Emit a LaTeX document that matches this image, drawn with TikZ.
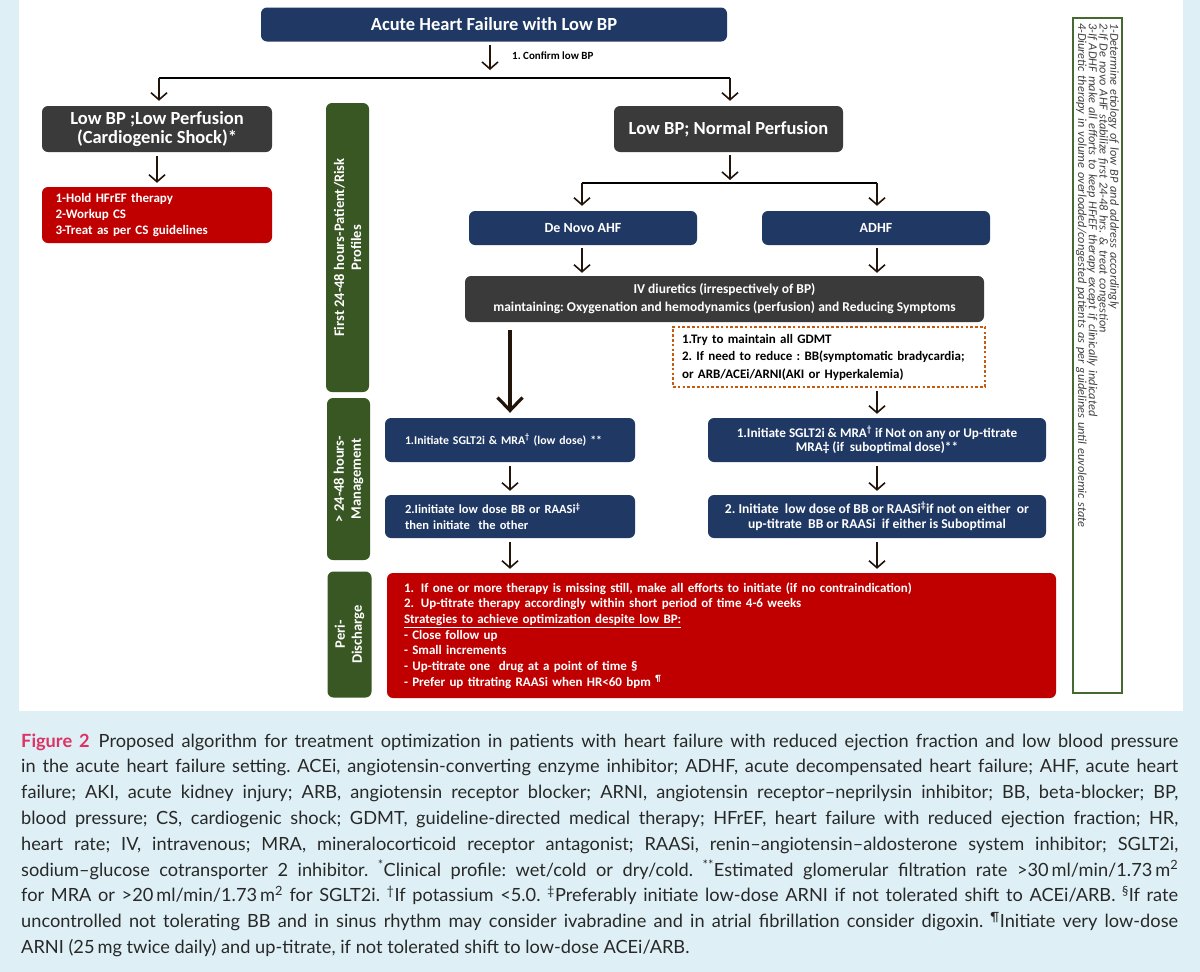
\documentclass[tikz,border=0pt]{standalone}
\usepackage{fontspec}
\setmainfont{Carlito}
\newfontfamily\capfont{Lato}
\usetikzlibrary{arrows.meta}
\definecolor{bgblue}{RGB}{222,240,246}
\definecolor{navyc}{RGB}{31,56,100}
\definecolor{grayc}{RGB}{58,58,58}
\definecolor{redc}{RGB}{192,0,0}
\definecolor{greenc}{RGB}{56,87,35}
\definecolor{orangec}{RGB}{197,90,17}
\definecolor{boxgreen}{RGB}{70,105,50}
\definecolor{pinkc}{RGB}{220,50,100}
\definecolor{arrowc}{RGB}{35,20,10}
\definecolor{captext}{RGB}{40,40,40}
\frenchspacing
\begin{document}
\begin{tikzpicture}[x=1pt,y=-1pt,
  blk/.style={rounded corners=6pt, inner sep=2pt, text=white, align=center},
  navybox/.style={blk, fill=navyc},
  graybox/.style={blk, fill=grayc},
  redbox/.style={blk, fill=redc},
  phase/.style={rounded corners=6pt, fill=greenc, text=white, font=\fontsize{14.5}{17}\selectfont\bfseries, align=center, inner sep=0pt},
  arr/.style={draw=arrowc, line width=1.6pt, -{Straight Barb[length=7pt,width=16pt,line width=1.6pt]}},
  bigarr/.style={draw=arrowc, line width=3.2pt, -{Straight Barb[length=13pt,width=25pt,line width=3.2pt]}},
  hline/.style={draw=black, line width=2.6pt},
  capline/.style={anchor=base west, inner sep=0pt, font=\capfont\fontsize{18.2}{20}\selectfont, text=captext},
]
\useasboundingbox (0,0) rectangle (1200,972);
\fill[bgblue] (0,0) rectangle (1200,972);
\fill[white] (19,0) rectangle (1183,711);

% top level
\node[navybox, minimum width=466pt, minimum height=34pt, font=\fontsize{18.5}{20}\selectfont\bfseries] (top) at (494,24.5) {Acute Heart Failure with Low BP};
\node[anchor=west, inner sep=0pt, font=\fontsize{11}{12}\selectfont\bfseries] (cf) at (512,56) {1. Confirm low BP};

\node[graybox, minimum width=230pt, minimum height=46pt, font=\fontsize{18.5}{19}\selectfont\bfseries] (lp) at (157,129) {Low BP ;Low Perfusion\\(Cardiogenic Shock)*};
\node[redbox, minimum width=230pt, minimum height=56pt, text width=203pt, inner xsep=13.5pt, align=left, font=\fontsize{13}{16}\selectfont\bfseries] (cs) at (157,215) {1-Hold HFrEF therapy\\2-Workup CS\\3-Treat as per CS guidelines};

\node[graybox, minimum width=229pt, minimum height=46pt, font=\fontsize{18.5}{20}\selectfont\bfseries] (np) at (728.5,129) {Low BP; Normal Perfusion};
\node[navybox, minimum width=228pt, minimum height=34pt, font=\fontsize{14}{16}\selectfont\bfseries] (dn) at (583,228) {De Novo AHF};
\node[navybox, minimum width=228pt, minimum height=34pt, font=\fontsize{14}{16}\selectfont\bfseries] (ad) at (876,228) {ADHF};
\node[graybox, minimum width=519pt, minimum height=46pt, font=\fontsize{13.5}{18}\selectfont\bfseries] (iv) at (724.5,299) {IV diuretics (irrespectively of BP)\\maintaining: Oxygenation and hemodynamics (perfusion) and Reducing Symptoms};
\node[draw=orangec, line width=2.5pt, dash pattern=on 2.6pt off 2.2pt, minimum width=312pt, minimum height=60pt, text width=294pt, inner xsep=9pt, align=left, font=\fontsize{13}{17.5}\selectfont\bfseries, text=black] (dt) at (829,357) {1.Try to maintain all GDMT\\2. If need to reduce : BB(symptomatic bradycardia;\\or ARB/ACEi/ARNI(AKI or Hyperkalemia)};

\node[navybox, minimum width=250pt, minimum height=44pt, text width=210pt, inner xsep=20pt, align=left, font=\fontsize{11.8}{16}\selectfont\bfseries] (l1) at (510,440) {1.Initiate SGLT2i \& MRA\textsuperscript{†} (low dose) **};
\node[navybox, minimum width=250pt, minimum height=43pt, text width=210pt, inner xsep=20pt, align=left, font=\fontsize{12.5}{16}\selectfont\bfseries] (l2) at (510,516.5) {2.Iinitiate low dose BB or RAASi\textsuperscript{‡}\\then initiate\ \ the other};
\node[navybox, minimum width=338pt, minimum height=44pt, font=\fontsize{13.2}{14}\selectfont\bfseries] (r1) at (877,440) {1.Initiate SGLT2i \& MRA\textsuperscript{†} if Not on any or Up-titrate\\MRA‡ (if\ \ suboptimal dose)**};
\node[navybox, minimum width=338pt, minimum height=43pt, inner xsep=1pt, font=\fontsize{13.6}{15}\selectfont\bfseries] (r2) at (877,516.5) {2. Initiate\ \ low dose of BB or RAASi\textsuperscript{‡}if not on either\ \ or\\up-titrate\ \ BB or RAASi\ \ if either is Suboptimal};

\node[redbox, minimum width=669pt, minimum height=125pt, text width=635pt, inner xsep=17pt, align=left, font=\fontsize{13}{15.7}\selectfont\bfseries] (pd) at (721.5,635.5) {\makebox[17pt][l]{1.}If one or more therapy is missing still, make all efforts to initiate (if no contraindication)\\\makebox[17pt][l]{2.}Up-titrate therapy accordingly within short period of time 4-6 weeks\\\underline{Strategies to achieve optimization despite low BP:}\\- Close follow up\\- Small increments\\- Up-titrate one\ \ drug at a point of time §\\- Prefer up titrating RAASi when HR<60 bpm \textsuperscript{¶}};

% phase labels
\node[phase, rotate=90, minimum width=289pt, minimum height=43pt] (ph1) at (347.5,247.5) {First 24-48 hours-Patient/Risk\\Profiles};
\node[phase, rotate=90, minimum width=162pt, minimum height=43pt] (ph2) at (348.5,479) {> 24-48 hours-\\Management};
\node[phase, rotate=90, minimum width=126pt, minimum height=44pt] (ph3) at (349.5,634.5) {Peri-\\Discharge};

% note box
\node[draw=boxgreen, line width=2.5pt, fill=white, rotate=-90, minimum width=675pt, minimum height=49pt, text width=665pt, inner xsep=5pt, inner ysep=1pt, align=left, font=\fontsize{12.3}{10.8}\selectfont\itshape, text=black!75] (nt) at (1097.5,355.5) {1-Determine etiology of low BP and address accordingly\\2-If De novo AHF stabilize first 24-48 hrs. \& treat congestion\\3-If ADHF make all efforts to keep HFrEF therapy except if clinically indicated\\4-Diuretic therapy in volume overloaded/congested patients as per guidelines until euvolemic state};

% connectors
\coordinate (j0) at (490,78);
\coordinate (jl) at (159,78);
\coordinate (jr) at (730,78);
\draw[arr, shorten <=3pt, shorten >=8pt] (top.south -| j0) -- (j0);
\draw[hline] (jl) -- (jr);
\draw[arr, shorten >=5pt] (jl) -- (lp.north -| jl);
\draw[arr, shorten >=5pt] (jr) -- (np.north -| jr);
\draw[arr, shorten <=4pt, shorten >=4pt] (lp.south) -- (cs.north);

\coordinate (k0) at (730,183);
\coordinate (kl) at (582,183);
\coordinate (kr) at (877,183);
\draw[arr, shorten <=3pt, shorten >=3pt] (np.south -| k0) -- (k0);
\draw[hline] (kl) -- (kr);
\draw[arr, shorten >=5pt] (kl) -- (dn.north -| kl);
\draw[arr, shorten >=5pt] (kr) -- (ad.north -| kr);
\draw[arr, shorten <=3pt, shorten >=3pt] (dn.south -| kl) -- (iv.north -| kl);
\draw[arr, shorten <=3pt, shorten >=3pt] (ad.south -| kr) -- (iv.north -| kr);
\draw[bigarr, shorten <=8pt, shorten >=5pt] (iv.south -| l1.north) -- (l1.north);
\draw[arr, shorten <=3pt, shorten >=4pt] (dt.south -| kr) -- (r1.north -| kr);
\draw[arr, shorten <=4pt, shorten >=4pt] (l1.south) -- (l2.north);
\draw[arr, shorten <=4pt, shorten >=4pt] (l2.south) -- (pd.north -| l2.south);
\draw[arr, shorten <=4pt, shorten >=4pt] (r1.south -| kr) -- (r2.north -| kr);
\draw[arr, shorten <=4pt, shorten >=4pt] (r2.south -| kr) -- (pd.north -| kr);

% caption
\node[capline] (c1) at (21,747) {\makebox[1157pt][s]{\textcolor{pinkc}{\bfseries Figure 2}\enspace Proposed algorithm for treatment optimization in patients with heart failure with reduced ejection fraction and low blood pressure}};
\node[capline] (c2) at (21,772.8) {\makebox[1157pt][s]{in the acute heart failure setting. ACEi, angiotensin-converting enzyme inhibitor; ADHF, acute decompensated heart failure; AHF, acute heart}};
\node[capline] (c3) at (21,798.6) {\makebox[1157pt][s]{failure; AKI, acute kidney injury; ARB, angiotensin receptor blocker; ARNI, angiotensin receptor–neprilysin inhibitor; BB, beta-blocker; BP,}};
\node[capline] (c4) at (21,824.4) {\makebox[1157pt][s]{blood pressure; CS, cardiogenic shock; GDMT, guideline-directed medical therapy; HFrEF, heart failure with reduced ejection fraction; HR,}};
\node[capline] (c5) at (21,850.2) {\makebox[1157pt][s]{heart rate; IV, intravenous; MRA, mineralocorticoid receptor antagonist; RAASi, renin–angiotensin–aldosterone system inhibitor; SGLT2i,}};
\node[capline] (c6) at (21,876) {\makebox[1157pt][s]{sodium–glucose cotransporter 2 inhibitor. \textsuperscript{*}Clinical profile: wet/cold or dry/cold. \textsuperscript{**}Estimated glomerular filtration rate >30\,ml/min/1.73\,m\textsuperscript{2}}};
\node[capline] (c7) at (21,901.8) {\makebox[1157pt][s]{for MRA or >20\,ml/min/1.73\,m\textsuperscript{2} for SGLT2i. \textsuperscript{†}If potassium <5.0. \textsuperscript{‡}Preferably initiate low-dose ARNI if not tolerated shift to ACEi/ARB. \textsuperscript{§}If rate}};
\node[capline] (c8) at (21,927.6) {\makebox[1157pt][s]{uncontrolled not tolerating BB and in sinus rhythm may consider ivabradine and in atrial fibrillation consider digoxin. \textsuperscript{¶}Initiate very low-dose}};
\node[capline] (c9) at (21,953.4) {ARNI (25\,mg twice daily) and up-titrate, if not tolerated shift to low-dose ACEi/ARB.};
\end{tikzpicture}
\end{document}
